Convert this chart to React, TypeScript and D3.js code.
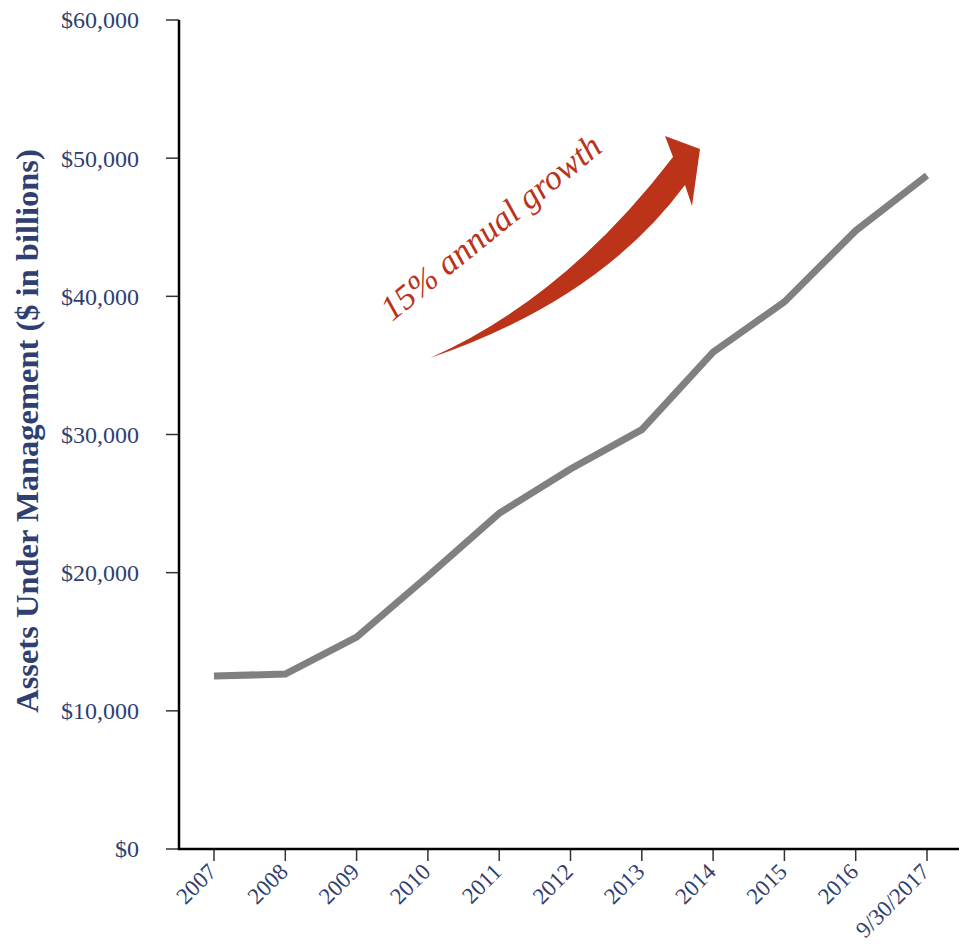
import * as d3 from 'd3'

const years = ['2007', '2008', '2009', '2010', '2011', '2012', '2013', '2014', '2015', '2016', '9/30/2017']
const aum = [12520, 12660, 15340, 19750, 24300, 27500, 30350, 35960, 39600, 44750, 48750]
const yTicks = [0, 10000, 20000, 30000, 40000, 50000, 60000]

const W = 959
const H = 947
const navy = '#2f3f6f'
const red = '#bb3319'

const App = () => {
  const x = d3.scalePoint<string>().domain(years).range([214, 927])
  const y = d3.scaleLinear().domain([0, 60000]).range([849, 20])
  const fmt = (v: number) => '$' + d3.format(',')(v)

  const line = d3
    .line<number>()
    .x((_, i) => x(years[i]) ?? 0)
    .y(d => y(d))

  // curved growth arrow
  const arrow = d3.path()
  arrow.moveTo(430, 358)
  arrow.quadraticCurveTo(565, 298, 673, 157)
  arrow.lineTo(665, 136)
  arrow.lineTo(700, 149)
  arrow.lineTo(692, 206)
  arrow.lineTo(685, 185)
  arrow.quadraticCurveTo(600, 300, 430, 358)
  arrow.closePath()

  const axisX = 179
  const axisY = 849

  return (
    <svg
      width={W}
      height={H}
      style={{ position: 'absolute', left: 0, top: 0, background: '#fff' }}
      fontFamily="'Liberation Serif', 'Times New Roman', serif"
    >
      {yTicks.map(t => (
        <g key={t}>
          <line x1={166} x2={axisX} y1={y(t)} y2={y(t)} stroke="#333" strokeWidth={1.5} />
          <text x={139} y={y(t)} dy="0.35em" textAnchor="end" fontSize={24} fill={navy}>
            {fmt(t)}
          </text>
        </g>
      ))}
      {years.map(c => (
        <g key={c}>
          <line x1={x(c)} x2={x(c)} y1={axisY} y2={axisY + 12} stroke="#333" strokeWidth={1.5} />
          <text
            transform={`translate(${(x(c) ?? 0) + 4},${axisY + 24}) rotate(-45)`}
            textAnchor="end"
            fontSize={23}
            fill={navy}
          >
            {c}
          </text>
        </g>
      ))}
      <line x1={axisX} x2={axisX} y1={20} y2={axisY + 1} stroke="#000" strokeWidth={2.5} />
      <line x1={axisX - 1} x2={W} y1={axisY} y2={axisY} stroke="#000" strokeWidth={2.5} />
      <text
        transform={`translate(38,431) rotate(-90)`}
        textAnchor="middle"
        fontSize={32.5}
        fontWeight="bold"
        fill={navy}
      >
        Assets Under Management ($ in billions)
      </text>
      <path d={line(aum) ?? ''} fill="none" stroke="#808080" strokeWidth={7} />
      <path d={arrow.toString()} fill={red} />
      <text
        transform="translate(392,322) rotate(-39)"
        fontSize={34.5}
        fontStyle="italic"
        fill={red}
      >
        15% annual growth
      </text>
    </svg>
  )
}

export default App
